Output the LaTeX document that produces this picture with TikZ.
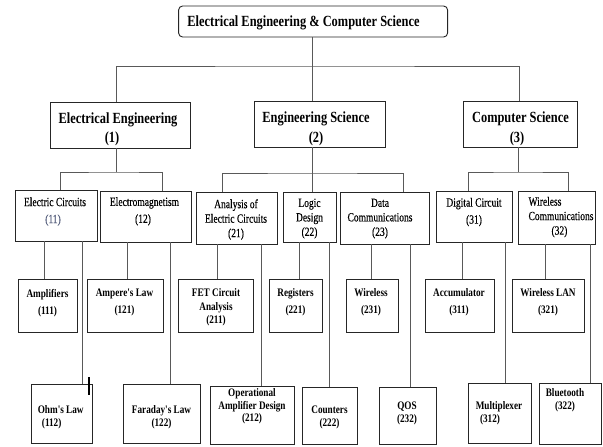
\documentclass[tikz,border=0pt]{standalone}
\usepackage{fontspec}
\setmainfont{Liberation Serif}
\newfontfamily\headfont{Liberation Serif}[FakeStretch=0.8]
\newfontfamily\subfont{Liberation Serif}[FakeStretch=0.76,FakeBold=0.3]
\definecolor{numblue}{RGB}{80,90,120}

\begin{document}
\begin{tikzpicture}[x=1pt,y=-1pt]
\tikzstyle{every node}+=[inner sep=0pt]
\tikzstyle{box}=[draw=black!85, line width=0.9pt, rectangle]
\tikzstyle{link}=[draw=black!65, line width=0.8pt]
\tikzstyle{head}=[align=center, font={\headfont\bfseries\fontsize{15.5}{19}\selectfont}]
\tikzstyle{sub}=[align=center, font={\subfont\fontsize{12.5}{14.5}\selectfont}]
\tikzstyle{leaf}=[align=center, font={\headfont\bfseries\fontsize{11.5}{13.5}\selectfont}]
\path[fill=white, use as bounding box] (0,0) rectangle (603,447);

% top and first level
\node[box, rounded corners=4pt, minimum width=269pt, minimum height=31pt] (top) at (313.1,21.5) {};
\node[head] (ttop) at (303.5,23) {Electrical Engineering \& Computer Science};
\node[box, minimum width=140.6pt, minimum height=46pt] (ee) at (120.3,125) {};
\node[head] (tee) at (118,129.3) {Electrical Engineering\\(1)\hspace*{12pt}};
\node[box, minimum width=130.3pt, minimum height=46pt] (es) at (319.9,124) {};
\node[head] (tes) at (316,128.3) {Engineering Science\\[1pt](2)};
\node[box, minimum width=113.6pt, minimum height=46pt] (cs) at (520.7,124) {};
\node[head] (tcs) at (520.5,128.3) {Computer Science\\[1pt](3)\hspace*{7pt}};

% second level
\node[box, minimum width=82pt, minimum height=51pt] (ec) at (56,215.5) {};
\node[sub] (tec) at (55,211.6) {Electric Circuits\\[2.5pt]\textcolor{numblue}{(11)}\hspace*{4pt}};
\node[box, minimum width=91pt, minimum height=51pt] (em) at (145.5,216.5) {};
\node[sub] (tem) at (144.5,211.4) {Electromagnetism\\[2.5pt](12)\hspace*{3pt}};
\node[box, minimum width=81pt, minimum height=52pt] (aec) at (236.5,218) {};
\node[sub] (taec) at (236,219.6) {Analysis of\\Electric Circuits\\(21)};
\node[box, minimum width=53pt, minimum height=50pt] (ld) at (309.5,217) {};
\node[sub] (tld) at (309.5,218.6) {Logic\\Design\\(22)};
\node[box, minimum width=89pt, minimum height=52pt] (dc) at (384.5,218) {};
\node[sub] (tdc) at (380,218.6) {Data\\Communications\\(23)};
\node[box, minimum width=76pt, minimum height=51pt] (dgc) at (474,216.5) {};
\node[sub] (tdgc) at (474,212.1) {Digital Circuit\\[2.5pt](31)};
\node[box, minimum width=77pt, minimum height=53pt] (wc) at (556.5,217.5) {};
\node[sub, align=left] (twc) at (561,217.1) {Wireless\\Communications\\\hspace*{23pt}(32)};

% third level, upper row
\node[box, minimum width=59pt, minimum height=53pt] (n111) at (47.5,305.5) {};
\node[leaf] (t111) at (47.5,302.7) {Amplifiers\\[3.5pt](111)};
\node[box, minimum width=76pt, minimum height=53pt] (n121) at (125,305.5) {};
\node[leaf] (t121) at (124.5,302.7) {Ampere's Law\\[3.5pt](121)};
\node[box, minimum width=75pt, minimum height=53pt] (n211) at (215.5,305.5) {};
\node[leaf] (t211) at (216,307.7) {FET Circuit\\Analysis\\(211)};
\node[box, minimum width=53pt, minimum height=53pt] (n221) at (295.5,305.5) {};
\node[leaf] (t221) at (295.5,302.7) {Registers\\[3.5pt](221)};
\node[box, minimum width=52pt, minimum height=53pt] (n231) at (372,305.5) {};
\node[leaf] (t231) at (371,302.7) {Wireless\\[3.5pt](231)};
\node[box, minimum width=69pt, minimum height=53pt] (n311) at (459.5,305.5) {};
\node[leaf] (t311) at (459,302.7) {Accumulator\\[3.5pt](311)};
\node[box, minimum width=72pt, minimum height=53pt] (n321) at (548,305.5) {};
\node[leaf] (t321) at (548,302.7) {Wireless LAN\\[3.5pt](321)};

% third level, lower row
\node[box, minimum width=61pt, minimum height=59pt] (n112) at (61.5,413.5) {};
\node[leaf] (t112) at (60.7,417.2) {Ohm's Law\\(112)\hspace*{18pt}};
\node[box, minimum width=77pt, minimum height=59pt] (n122) at (161.5,413.5) {};
\node[leaf] (t122) at (161.5,417.2) {Faraday's Law\\(122)};
\node[box, minimum width=84pt, minimum height=58pt] (n212) at (252,415) {};
\node[leaf] (t212) at (252,406.7) {Operational\\[-1pt]Amplifier Design\\[-1pt](212)};
\node[box, minimum width=55pt, minimum height=57pt] (n222) at (329.5,415.5) {};
\node[leaf] (t222) at (329.5,417.2) {Counters\\(222)};
\node[box, minimum width=57pt, minimum height=57pt] (n232) at (407.5,415.5) {};
\node[leaf] (t232) at (407,413.7) {QOS\\[-0.5pt](232)};
\node[box, minimum width=63pt, minimum height=60pt] (n312) at (499.5,413) {};
\node[leaf] (t312) at (499,413.2) {Multiplexer\\(312)\hspace*{18pt}};
\node[box, minimum width=62pt, minimum height=61pt] (n322) at (570,413.5) {};
\node[leaf] (t322) at (565,400.7) {Bluetooth\\[-0.5pt](322)};

% bars
\coordinate (bar0) at (312,66);
\coordinate (bar1) at (116,172);
\coordinate (bar2) at (312,173);
\coordinate (bar3) at (518,172);
\draw[link] (top.south -| bar0) -- (bar0);
\draw[link] (ee.north -| 116,0) |- (bar0) -| (cs.north -| 519,0);
\draw[link] (bar0) -- (es.north -| bar0);
\draw[link] (ee.south -| bar1) -- (bar1);
\draw[link] (ec.north -| 60,0) |- (bar1) -| (em.north -| 162,0);
\draw[link] (es.south -| bar2) -- (ld.north -| bar2);
\draw[link] (aec.north -| 222,0) |- (bar2) -| (dc.north -| 403,0);
\draw[link] (cs.south -| bar3) -- (bar3);
\draw[link] (dgc.north -| 468,0) |- (bar3) -| (wc.north -| 568,0);

% drops to the third level
\draw[link] (ec.south -| 44,0) -- (n111.north -| 44,0);
\draw[link] (ec.south -| 82,0) -- (n112.north -| 82,0);
\draw[link] (em.south -| 127,0) -- (n121.north -| 127,0);
\draw[link] (em.south -| 170,0) -- (n122.north -| 170,0);
\draw[link] (aec.south -| 217,0) -- (n211.north -| 217,0);
\draw[link] (aec.south -| 261,0) -- (n212.north -| 261,0);
\draw[link] (ld.south -| 299,0) -- (n221.north -| 299,0);
\draw[link] (ld.south -| 329,0) -- (n222.north -| 329,0);
\draw[link] (dc.south -| 371,0) -- (n231.north -| 371,0);
\draw[link] (dc.south -| 410,0) -- (n232.north -| 410,0);
\draw[link] (dgc.south -| 462,0) -- (n311.north -| 462,0);
\draw[link] (dgc.south -| 505,0) -- (n312.north -| 505,0);
\draw[link] (wc.south -| 545,0) -- (n321.north -| 545,0);
\draw[link] (wc.south -| 590,0) -- (n322.north -| 590,0);

\draw[black, line width=1.6pt] (89,377) -- (89,395);
\end{tikzpicture}
\end{document}
